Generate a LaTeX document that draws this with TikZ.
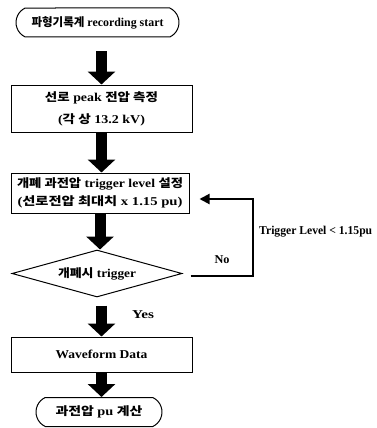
\documentclass[tikz,border=0pt]{standalone}
\usepackage{fontspec}
\setmainfont{Liberation Serif}
\newfontfamily\kr[Scale=0.97]{Noto Sans CJK KR}
\usetikzlibrary{arrows.meta,shapes.geometric,shapes.misc}
\newcommand\K[1]{{\kr\bfseries #1}}
\newlength\fitlen
\newcommand\fitw[2]{\settowidth\fitlen{#2}\pgfmathsetmacro\fitr{#1/\fitlen}\scalebox{\fitr}[1]{#2}}
\begin{document}
\begin{tikzpicture}[x=1pt,y=-1pt,
  every node/.style={font=\bfseries\fontsize{12}{18}\selectfont},
  term/.style={draw,line width=1pt,rounded rectangle,rounded rectangle arc length=130,inner sep=1pt},
  boxnode/.style={draw,line width=1pt,rectangle,align=center,inner sep=1pt},
  decision/.style={draw,line width=1pt,diamond,aspect=3.6,inner sep=0pt},
  bigarrow/.style={line width=11pt,-{Triangle[width=27pt,length=13pt]}},
  fb/.style={line width=2pt,-{Triangle[width=10pt,length=10pt]}},
  lbl/.style={inner sep=1pt}]
\useasboundingbox (0,0) rectangle (377,428);
\fill[white] (0,0) rectangle (377,428);
\node[term,minimum width=165pt,minimum height=29pt] (t1) at (97.5,22.5) {\fitw{132}{\K{파형기록계} recording start}};
\node[boxnode,minimum width=181pt,minimum height=47pt] (b1) at (101.5,108.5) {\fitw{113}{\K{선로} peak \K{전압 측정}}\\[4pt]\fitw{87}{(\K{각 상} 13.2 kV)}};
\node[boxnode,minimum width=178pt,minimum height=40pt] (b2) at (100,193) {\fitw{166}{\K{개폐 과전압} trigger level \K{설정}}\\\fitw{165}{(\K{선로전압 최대치} x 1.15 pu)}};
\node[decision,minimum width=170pt,minimum height=47pt] (d) at (97,273.5) {\fitw{78}{\K{개폐시} trigger}};
\node[boxnode,minimum width=181pt,minimum height=35pt] (b3) at (101.5,354.5) {\fitw{92}{Waveform Data}};
\node[term,minimum width=128pt,minimum height=29pt] (t2) at (99,412) {\fitw{87}{\K{과전압} pu \K{계산}}};
\draw[bigarrow,shorten <=14pt] (t1.south -| b1.north) -- (b1.north);
\draw[bigarrow] (b1.south) -- (b1.south |- b2.north);
\draw[bigarrow] (b2.south) -- (b2.south |- d.north);
\draw[bigarrow,shorten <=8pt] (d.south -| b3.north) -- (b3.north);
\draw[bigarrow] (b3.south) -- (b3.south |- t2.north);
\draw[fb] ([xshift=8pt,yshift=-2pt]d.east) -- ++(62,0) coordinate (corner) |- ([xshift=10pt,yshift=-6pt]b2.east);
\node[lbl] (no) at (222,260) {\fitw{15}{No}};
\node[lbl,anchor=west] (tl) at (258,232) {\fitw{113}{Trigger Level < 1.15pu}};
\node[lbl] (yes) at (143,315) {\fitw{22}{Yes}};
\end{tikzpicture}
\end{document}
